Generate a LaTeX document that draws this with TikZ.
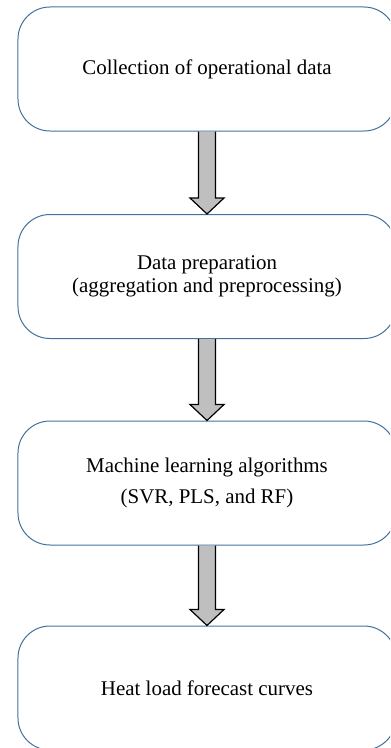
\documentclass[tikz,border=0pt]{standalone}
\usepackage{fontspec}
\setmainfont{Liberation Serif}
\definecolor{boxline}{RGB}{65,113,156}
\definecolor{arrowfill}{RGB}{191,191,191}

\tikzset{
    stage/.style={draw=boxline, line width=1bp, rectangle, rounded corners=32bp,
        minimum width=378bp, minimum height=124bp, align=center,
        font=\fontsize{21}{23}\selectfont},
    blockarrow/.style={fill=arrowfill, draw=black, line width=1.2bp, line join=miter}
}

\begin{document}
\begin{tikzpicture}[x=1bp, y=1bp]
            \useasboundingbox (0,0) rectangle (390,-748);
            \clip (0,0) rectangle (390,-748);

            \node[stage] (collect) at (207,-69) {Collection of operational data};
            \node[stage] (prepare) at (207,-276.5) {Data preparation\\(aggregation and preprocessing)};
            \node[stage] (learn) at (207,-483) {Machine learning algorithms\\[9bp](SVR, PLS, and RF)};
            \node[stage] (forecast) at (207,-688) {Heat load forecast curves};

            \foreach \a/\b in {collect/prepare, prepare/learn, learn/forecast}
                \filldraw[blockarrow] ([xshift=-8.5bp]\a.south) -- ([xshift=-8.5bp,yshift=16bp]\b.north)
                    -- ([xshift=-17bp,yshift=16bp]\b.north) -- (\b.north)
                    -- ([xshift=17bp,yshift=16bp]\b.north) -- ([xshift=8.5bp,yshift=16bp]\b.north)
                    -- ([xshift=8.5bp]\a.south);
        \end{tikzpicture}
\end{document}
